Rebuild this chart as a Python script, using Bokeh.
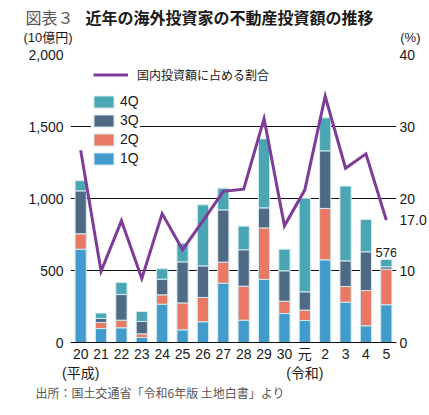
from bokeh.plotting import figure
from bokeh.layouts import column
from bokeh.models import (Label, Legend, LegendItem, FixedTicker, LinearAxis,
                          Range1d, ColumnDataSource)
from bokeh.embed import file_html
from bokeh.resources import INLINE

# ---- data ----
years = ["20", "21", "22", "23", "24", "25", "26", "27", "28", "29", "30",
         "元", "2", "3", "4", "5"]
era_notes = {"20": "(平成)", "元": "(令和)"}
q1 = [648, 97, 102, 35, 266, 88, 144, 412, 155, 438, 201, 153, 574, 280, 116, 262]
q2 = [107, 42, 53, 25, 65, 187, 169, 146, 236, 358, 86, 72, 357, 109, 245, 247]
q3 = [298, 28, 178, 86, 109, 285, 219, 363, 253, 139, 211, 127, 400, 178, 269, 17]
q4 = [70, 37, 84, 69, 72, 130, 424, 151, 164, 479, 150, 650, 229, 519, 224, 50]
ratio = [26.7, 9.9, 16.9, 8.9, 17.9, 12.9, 16.9, 21.0, 21.3, 31.1, 16.2, 21.2,
         34.2, 24.2, 26.2, 17.0]
left_ticks = [0, 500, 1000, 1500, 2000]
right_ticks = [0, 10, 20, 30, 40]
last_total_label = "576"
last_ratio_label = "17.0"

title_tag = "図表３"
title_text = "近年の海外投資家の不動産投資額の推移"
left_unit = "(10億円)"
right_unit = "(%)"
source_text = "出所：国土交通省「令和6年版 土地白書」より"
line_name = "国内投資額に占める割合"

colors = ["#419bcb", "#e97865", "#506984", "#49a6b2"]
purple = "#7d3c98"
NUM_FONT = "Liberation Sans, Noto Sans CJK JP"
JP_FONT = "Noto Sans CJK JP"
W = 429


def text_strip(height):
    f = figure(frame_width=W, frame_height=height, min_border=0,
               min_border_left=0, min_border_right=0,
               min_border_top=0, min_border_bottom=0,
               x_range=Range1d(0, W), y_range=Range1d(height, 0),
               x_axis_location=None, y_axis_location=None,
               output_backend="svg", toolbar_location=None)
    f.frame_align = False
    f.outline_line_color = None
    f.xgrid.visible = False
    f.ygrid.visible = False
    return f


def add_label(fig, text, x, y, **kw):
    opts = dict(text_baseline="middle", text_font=JP_FONT,
                text_font_size="12px", text_color="#1a1a1a")
    opts.update(kw)
    fig.add_layout(Label(x=x, y=y, text=text, **opts))


def plain_axis(axis, font=NUM_FONT, size="14px", standoff=3):
    axis.axis_line_color = None
    axis.major_tick_line_color = None
    axis.minor_tick_line_color = None
    axis.major_tick_out = 0
    axis.major_tick_in = 0
    axis.minor_tick_out = 0
    axis.minor_tick_in = 0
    axis.major_label_standoff = standoff
    axis.major_label_text_font = font
    axis.major_label_text_font_size = size
    axis.major_label_text_color = "#1a1a1a"


# ---- top strip: title and units ----
top = text_strip(46)
add_label(top, title_tag, 25, 16, text_font_size="16px", text_color="#555555")
add_label(top, title_text, 85, 16, text_font_size="16px",
          text_font_style="bold", text_color="#1a1a1a")
add_label(top, left_unit, 23, 37, text_font=NUM_FONT, text_font_size="13px")
add_label(top, right_unit, 420, 37, text_font=NUM_FONT, text_font_size="13px",
          text_align="right")

# ---- main chart ----
xs = list(range(len(years)))
src = ColumnDataSource(dict(x=xs, q1=q1, q2=q2, q3=q3, q4=q4, ratio=ratio))

p = figure(frame_width=326, frame_height=288,
           min_border_left=70, min_border_right=W - 70 - 326,
           min_border_top=8, min_border_bottom=40,
           x_range=Range1d(-0.5, len(years) - 0.5), y_range=Range1d(0, 2000),
           output_backend="svg", toolbar_location=None)
p.frame_align = False
p.extra_y_ranges = {"pct": Range1d(0, 40)}
p.outline_line_color = None

bars = p.vbar_stack(["q1", "q2", "q3", "q4"], x="x", width=0.55, source=src,
                    fill_color=colors, line_color="#d3eaef", line_width=1)

line_r = p.line("x", "ratio", source=src, y_range_name="pct",
                line_color=purple, line_width=3, line_join="miter")

p.xgrid.visible = False
p.ygrid.ticker = FixedTicker(ticks=left_ticks)
p.ygrid.grid_line_color = "#111111"
p.ygrid.grid_line_width = 1

ya = p.yaxis[0]
ya.ticker = FixedTicker(ticks=left_ticks)
ya.major_label_overrides = {t: f"{t:,}" for t in left_ticks}
plain_axis(ya, standoff=7)

# right axis: percentage ticks plus the value of the final point
r_ticks = sorted(right_ticks + [ratio[-1]])
ra = LinearAxis(y_range_name="pct", ticker=FixedTicker(ticks=r_ticks))
ra.major_label_overrides = {ratio[-1]: last_ratio_label}
plain_axis(ra, standoff=3)
p.add_layout(ra, "right")

# year labels
xa = p.xaxis[0]
xa.ticker = FixedTicker(ticks=xs)
xa.major_label_overrides = {i: y for i, y in zip(xs, years)}
plain_axis(xa, standoff=3)
xa.axis_line_color = "#111111"
xa.axis_line_width = 1

# era labels under the first year of each era
era_ticks = [i for i, y in zip(xs, years) if y in era_notes]
ea = LinearAxis(ticker=FixedTicker(ticks=era_ticks))
ea.major_label_overrides = {i: era_notes[years[i]] for i in era_ticks}
plain_axis(ea, font=NUM_FONT, size="14px", standoff=0)
p.add_layout(ea, "below")

line_leg = Legend(items=[LegendItem(label=line_name, renderers=[line_r])],
                  location=(23, 259), glyph_width=35, glyph_height=15,
                  label_height=15, label_standoff=9, padding=0, margin=0,
                  border_line_color=None, background_fill_alpha=0,
                  label_text_font=JP_FONT, label_text_font_size="12px",
                  label_text_color="#1a1a1a")
p.add_layout(line_leg, "center")

bar_leg = Legend(items=[LegendItem(label=f"{k}Q", renderers=[bars[k - 1]])
                        for k in (4, 3, 2, 1)],
                 location=(21, 176), glyph_width=25, glyph_height=15,
                 label_height=15, spacing=3, label_standoff=4, padding=6,
                 margin=0, border_line_color=None, background_fill_color="white",
                 background_fill_alpha=1,
                 label_text_font="Liberation Sans", label_text_font_size="14px",
                 label_text_color="#1a1a1a")
p.add_layout(bar_leg, "center")

p.add_layout(Label(x=xs[-1], y=q1[-1] + q2[-1] + q3[-1] + q4[-1],
                   text=last_total_label, y_offset=3,
                   text_align="center", text_baseline="bottom",
                   text_font=NUM_FONT, text_font_size="13px",
                   text_color="#1a1a1a"))

# ---- bottom strip: source ----
bottom = text_strip(24)
add_label(bottom, source_text, 35, 9, text_font_size="12px",
          text_color="#555555")

layout = column(top, p, bottom, spacing=0)
open("out.html", "w").write(file_html(layout, INLINE))
